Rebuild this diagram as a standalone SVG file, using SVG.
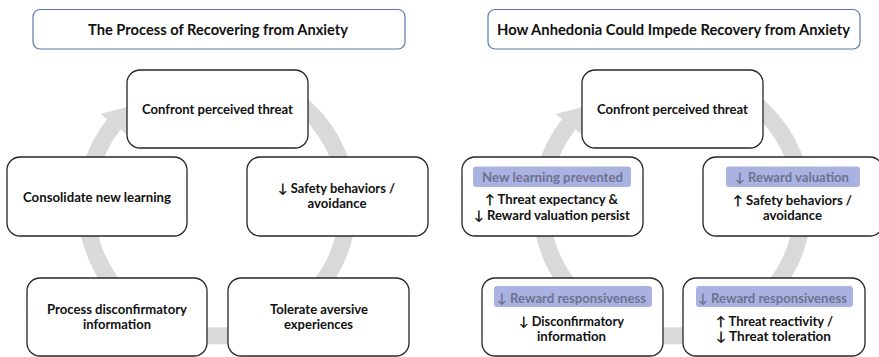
<svg xmlns="http://www.w3.org/2000/svg" width="879" height="357" viewBox="0 0 879 357">
  <defs>
    <style>
      .title rect { fill: #ffffff; stroke: #5b78ad; stroke-width: 1.2; }
      .node rect.box { fill: #ffffff; stroke: #262626; stroke-width: 1.3; }
      .hl { fill: #aab2e2; }
      text { font-family: Lato, "Open Sans", "Liberation Sans", sans-serif; font-weight: 700; font-size: 13px; fill: #111111; text-anchor: middle; }
      text.tt { font-size: 14.5px; }
      text.h { fill: #6d7390; }
      .ring { fill: none; stroke: #d9d9d9; stroke-width: 17; }
      .head { fill: #d9d9d9; }
    </style>
  </defs>

  <rect width="879" height="357" fill="#ffffff"/>

  <!-- cycle rings behind the nodes -->
  <g id="connectors">
    <path class="ring" d="M113.8,124.3 A131,131 0 1 0 261.8,81.9"/>
    <polygon class="head" points="100.4,113.9 127.2,134.8 127.3,107"/>
    <path class="ring" d="M568.8,124.3 A131,131 0 1 0 716.8,81.9"/>
    <polygon class="head" points="555.4,113.9 582.2,134.8 582.3,107"/>
  </g>

  <!-- left panel -->
  <g id="title-left" class="title">
    <rect x="33" y="9.5" width="372" height="39.5" rx="7"/>
    <text class="tt" x="218" y="35" textLength="260" lengthAdjust="spacingAndGlyphs">The Process of Recovering from Anxiety</text>
  </g>
  <g id="confront-left" class="node">
    <rect class="box" x="127" y="70" width="181" height="78" rx="13"/>
    <text x="217.5" y="114" textLength="151" lengthAdjust="spacingAndGlyphs">Confront perceived threat</text>
  </g>
  <g id="consolidate" class="node">
    <rect class="box" x="7" y="157" width="180" height="79" rx="13"/>
    <text x="97" y="202" textLength="148" lengthAdjust="spacingAndGlyphs">Consolidate new learning</text>
  </g>
  <g id="safety-left" class="node">
    <rect class="box" x="247" y="157" width="181" height="79" rx="13"/>
    <text x="336.5" y="193" textLength="117" lengthAdjust="spacingAndGlyphs">↓ Safety behaviors /</text>
    <text x="337" y="208" textLength="59" lengthAdjust="spacingAndGlyphs">avoidance</text>
  </g>
  <g id="process" class="node">
    <rect class="box" x="27" y="278" width="180" height="78" rx="13"/>
    <text x="117" y="314" textLength="140" lengthAdjust="spacingAndGlyphs">Process disconfirmatory</text>
    <text x="117" y="329" textLength="68" lengthAdjust="spacingAndGlyphs">information</text>
  </g>
  <g id="tolerate" class="node">
    <rect class="box" x="228" y="278" width="181" height="78" rx="13"/>
    <text x="319" y="314" textLength="98" lengthAdjust="spacingAndGlyphs">Tolerate aversive</text>
    <text x="318.5" y="329" textLength="69" lengthAdjust="spacingAndGlyphs">experiences</text>
  </g>

  <!-- right panel -->
  <g id="title-right" class="title">
    <rect x="488" y="9.5" width="372" height="39.5" rx="7"/>
    <text class="tt" x="673.5" y="35" textLength="353" lengthAdjust="spacingAndGlyphs">How Anhedonia Could Impede Recovery from Anxiety</text>
  </g>
  <g id="confront-right" class="node">
    <rect class="box" x="582" y="70" width="181" height="78" rx="13"/>
    <text x="672.5" y="114" textLength="151" lengthAdjust="spacingAndGlyphs">Confront perceived threat</text>
  </g>
  <g id="learning-prevented" class="node">
    <rect class="box" x="462" y="157" width="181" height="79" rx="13"/>
    <rect class="hl" x="473" y="166.5" width="158" height="20.5" rx="3"/>
    <text class="h" x="552.5" y="182" textLength="141" lengthAdjust="spacingAndGlyphs">New learning prevented</text>
    <text x="551.5" y="204" textLength="133" lengthAdjust="spacingAndGlyphs">↑ Threat expectancy &amp;</text>
    <text x="552" y="220" textLength="156" lengthAdjust="spacingAndGlyphs">↓ Reward valuation persist</text>
  </g>
  <g id="reward-valuation" class="node">
    <rect class="box" x="703" y="157" width="180" height="79" rx="13"/>
    <rect class="hl" x="726" y="166.5" width="134" height="20.5" rx="3"/>
    <text class="h" x="792" y="182" textLength="114" lengthAdjust="spacingAndGlyphs">↓ Reward valuation</text>
    <text x="792.5" y="205" textLength="119" lengthAdjust="spacingAndGlyphs">↑ Safety behaviors /</text>
    <text x="792.5" y="220" textLength="59" lengthAdjust="spacingAndGlyphs">avoidance</text>
  </g>
  <g id="responsiveness-disconfirm" class="node">
    <rect class="box" x="482" y="278" width="181" height="78" rx="13"/>
    <rect class="hl" x="494" y="286" width="158" height="21" rx="3"/>
    <text class="h" x="571.5" y="303" textLength="149" lengthAdjust="spacingAndGlyphs">↓ Reward responsiveness</text>
    <text x="571.5" y="326" textLength="105" lengthAdjust="spacingAndGlyphs">↓ Disconfirmatory</text>
    <text x="571.5" y="341" textLength="69" lengthAdjust="spacingAndGlyphs">information</text>
  </g>
  <g id="responsiveness-threat" class="node">
    <rect class="box" x="683" y="278" width="182" height="78" rx="13"/>
    <rect class="hl" x="696" y="286" width="157" height="21" rx="3"/>
    <text class="h" x="772.5" y="303" textLength="149" lengthAdjust="spacingAndGlyphs">↓ Reward responsiveness</text>
    <text x="774.5" y="326" textLength="117" lengthAdjust="spacingAndGlyphs">↑ Threat reactivity /</text>
    <text x="773.5" y="341" textLength="115" lengthAdjust="spacingAndGlyphs">↓  Threat toleration</text>
  </g>
</svg>
